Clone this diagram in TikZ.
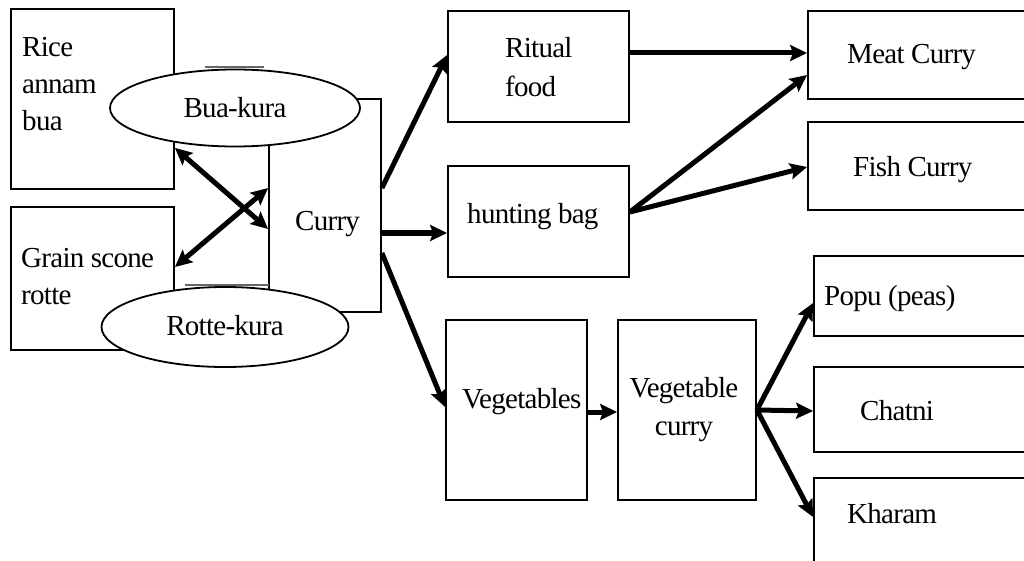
\documentclass[tikz,border=0pt]{standalone}
\usepackage{fontspec}
\setmainfont{Liberation Serif}[LetterSpace=-2.5]
\usetikzlibrary{arrows.meta,calc,shapes.geometric}
\begin{document}
\begin{tikzpicture}[x=1pt,y=-1pt,
  box/.style={draw,line width=1.8pt,inner sep=0pt},
  oval/.style={draw,ellipse,line width=1.8pt,fill=white,inner sep=0pt,font=\fontsize{29}{30}\selectfont},
  txt/.style={inner sep=0pt,font=\fontsize{29}{37}\selectfont},
  arr/.style={line width=5pt,-{Stealth[length=17pt,width=16pt,inset=3pt]}},
  darr/.style={line width=5pt,{Stealth[length=17pt,width=16pt,inset=3pt]}-{Stealth[length=17pt,width=16pt,inset=3pt]}},
  ghost/.style={draw=black!60,line width=1.8pt}]
\useasboundingbox (0,0) rectangle (1024,561);
% boxes
\node[box,minimum width=163pt,minimum height=180pt] (rice) at (92.5,99) {};
\node[box,minimum width=163pt,minimum height=143pt] (grain) at (92.5,278.5) {};
\node[box,minimum width=112pt,minimum height=213pt] (curry) at (325,205.5) {};
\node[box,minimum width=181pt,minimum height=111pt] (ritual) at (538.5,66.5) {};
\node[box,minimum width=181pt,minimum height=111pt] (hunt) at (538.5,221.5) {};
\node[box,minimum width=232pt,minimum height=88pt] (meat) at (924,55) {};
\node[box,minimum width=232pt,minimum height=88pt] (fish) at (924,166) {};
\node[box,minimum width=141pt,minimum height=180pt] (veg) at (516.5,410) {};
\node[box,minimum width=138pt,minimum height=180pt] (vegc) at (687,410) {};
\node[box,minimum width=226pt,minimum height=80pt] (popu) at (927,296) {};
\node[box,minimum width=226pt,minimum height=85pt] (chatni) at (927,409.5) {};
\node[box,minimum width=226pt,minimum height=122pt] (kharam) at (927,539) {};
% stray frame lines behind the ovals
\coordinate (g1) at (205,67);
\coordinate (g2) at (264,67);
\coordinate (g3) at (185,285);
\coordinate (g4) at (269,285);
\draw[ghost] (g1) -- (g2);
\draw[ghost] (g3) -- (g4);
% ovals
\node[oval,minimum width=250pt,minimum height=77pt] (bua) at (235,108) {Bua-kura};
\node[oval,minimum width=247pt,minimum height=80pt] (rottek) at (225,327) {\raisebox{3pt}{Rotte-kura}};
% texts
\node[txt,anchor=north west,align=left] (ricet) at (22,37) {Rice\\annam\\bua};
\node[txt,anchor=north west,align=left] (graint) at (21,248) {Grain scone\\rotte};
\node[txt,anchor=base west] (curryt) at (295,230) {Curry};
\node[txt,anchor=north west,align=left,font=\fontsize{29}{39}\selectfont] (ritualt) at (505,37) {Ritual\\food};
\node[txt,anchor=base west] (huntt) at (467,223) {hunting bag};
\node[txt,anchor=base west] (meatt) at (847,64) {Meat Curry};
\node[txt,anchor=base west] (fisht) at (853,177) {Fish Curry};
\node[txt,anchor=base west] (vegt) at (462,408) {Vegetables};
\node[txt,anchor=north,align=center,font=\fontsize{29}{38}\selectfont] (vegct) at (684,377) {Vegetable\\curry};
\node[txt,anchor=base west] (poput) at (824,305) {Popu (peas)};
\node[txt,anchor=base west] (chatnit) at (860,420) {Chatni};
\node[txt,anchor=base west] (kharamt) at (847,523) {Kharam};
% connectors
\draw[darr] ($(rice.south east)+(0,-42)$) -- ($(curry.west)+(0,23.5)$);
\draw[darr] ($(grain.east)+(0,-11.5)$) -- ($(curry.west)+(0,-17.5)$);
\draw[arr] ($(curry.east)+(0,-17.5)$) -- ($(ritual.west)+(0,-11.5)$);
\draw[arr] ($(curry.east)+(0,27.5)$) -- ($(hunt.west)+(0,11.5)$);
\draw[arr] ($(curry.east)+(0,47.5)$) -- ($(veg.west)+(0,-3)$);
\draw[arr] ($(ritual.east)+(0,-13.5)$) -- ($(meat.west)+(0,-2)$);
\draw[arr] ($(hunt.east)+(0,-9.5)$) -- ($(meat.west)+(0,20)$);
\draw[arr] ($(hunt.east)+(0,-9.5)$) -- ($(fish.west)+(0,1)$);
\draw[arr] ($(veg.east)+(0,2)$) -- ($(vegc.west)+(0,2)$);
\draw[arr] (vegc.east) -- ($(popu.west)+(0,7)$);
\draw[arr] (vegc.east) -- ($(chatni.west)+(0,1.5)$);
\draw[arr] (vegc.east) -- ($(kharam.west)+(0,-22)$);
\end{tikzpicture}
\end{document}
